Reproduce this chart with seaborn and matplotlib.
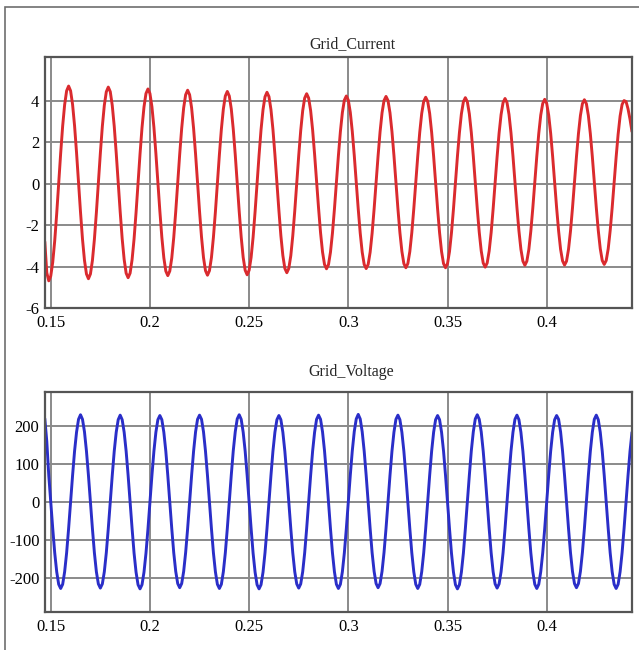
import numpy as np
import matplotlib.pyplot as plt
import seaborn as sns
from matplotlib.patches import Rectangle

# sample times, 1 ms apart, over the visible window (ms)
time_ms = np.arange(147, 444)

# grid current (A), one row per cycle
grid_current = [
    -2.80, -4.30,
    -4.69, -4.46, -3.79, -2.76, -1.45, 0.00, 1.46, 2.77, 3.80, 4.47, 4.70, 4.47, 3.81, 2.79, 1.49, 0.06, -1.38, -2.68, -3.70, -4.36,
    -4.59, -4.36, -3.71, -2.69, -1.40, 0.03, 1.46, 2.75, 3.77, 4.42, 4.65, 4.43, 3.77, 2.76, 1.47, 0.06, -1.36, -2.65, -3.66, -4.32,
    -4.54, -4.32, -3.67, -2.67, -1.40, 0.01, 1.42, 2.69, 3.69, 4.34, 4.56, 4.34, 3.70, 2.71, 1.45, 0.06, -1.33, -2.59, -3.58, -4.22,
    -4.44, -4.22, -3.59, -2.60, -1.35, 0.03, 1.41, 2.66, 3.65, 4.28, 4.50, 4.28, 3.65, 2.66, 1.42, 0.04, -1.34, -2.58, -3.57, -4.20,
    -4.42, -4.20, -3.57, -2.59, -1.36, 0.01, 1.38, 2.61, 3.59, 4.22, 4.44, 4.22, 3.60, 2.62, 1.39, 0.02, -1.35, -2.58, -3.56, -4.18,
    -4.40, -4.18, -3.56, -2.59, -1.36, 0.00, 1.36, 2.59, 3.56, 4.18, 4.40, 4.19, 3.57, 2.61, 1.39, 0.05, -1.29, -2.51, -3.47, -4.09,
    -4.30, -4.09, -3.48, -2.52, -1.32, 0.02, 1.35, 2.55, 3.51, 4.12, 4.33, 4.12, 3.52, 2.59, 1.41, 0.11, -1.19, -2.37, -3.30, -3.90,
    -4.11, -3.91, -3.31, -2.39, -1.23, 0.06, 1.34, 2.50, 3.42, 4.02, 4.22, 4.02, 3.43, 2.51, 1.35, 0.06, -1.23, -2.39, -3.31, -3.90,
    -4.10, -3.90, -3.31, -2.39, -1.23, 0.05, 1.33, 2.49, 3.41, 4.00, 4.20, 4.00, 3.41, 2.50, 1.35, 0.07, -1.21, -2.36, -3.27, -3.86,
    -4.06, -3.86, -3.28, -2.37, -1.22, 0.05, 1.32, 2.47, 3.38, 3.96, 4.16, 3.96, 3.38, 2.47, 1.32, 0.05, -1.22, -2.37, -3.28, -3.86,
    -4.06, -3.86, -3.28, -2.37, -1.23, 0.04, 1.31, 2.45, 3.36, 3.94, 4.14, 3.94, 3.36, 2.46, 1.32, 0.06, -1.21, -2.35, -3.25, -3.83,
    -4.03, -3.83, -3.25, -2.36, -1.22, 0.04, 1.29, 2.43, 3.32, 3.90, 4.10, 3.90, 3.33, 2.44, 1.32, 0.08, -1.16, -2.28, -3.17, -3.74,
    -3.94, -3.74, -3.18, -2.29, -1.18, 0.06, 1.30, 2.41, 3.30, 3.86, 4.06, 3.86, 3.30, 2.42, 1.30, 0.07, -1.17, -2.28, -3.17, -3.73,
    -3.93, -3.74, -3.17, -2.29, -1.18, 0.06, 1.29, 2.40, 3.28, 3.85, 4.04, 3.85, 3.28, 2.40, 1.30, 0.07, -1.16, -2.26, -3.14, -3.71,
    -3.90, -3.71, -3.15, -2.27, -1.17, 0.05, 1.27, 2.37, 3.25, 3.81, 4.00, 3.95, 3.60, 3.10, 2.50,
]

# grid voltage (V)
grid_voltage = [
    220, 160, 70, 0, -70, -134, -184, -217,
    -228, -217, -184, -134, -70, 0, 70, 134, 184, 218, 230, 218, 185, 134, 70, 0, -70, -134, -184, -216,
    -227, -216, -184, -134, -70, 0, 70, 134, 184, 217, 229, 217, 184, 134, 70, 0, -70, -135, -185, -218,
    -229, -218, -185, -135, -71, 0, 70, 134, 184, 217, 228, 217, 184, 134, 70, 0, -70, -134, -183, -215,
    -226, -215, -183, -133, -70, 0, 70, 134, 185, 218, 229, 218, 185, 134, 70, 0, -70, -134, -184, -217,
    -228, -217, -184, -134, -70, 0, 71, 135, 185, 219, 230, 218, 184, 134, 70, 0, -70, -135, -185, -218,
    -229, -218, -185, -134, -70, 0, 70, 134, 184, 217, 228, 217, 184, 134, 70, 0, -70, -134, -184, -216,
    -227, -216, -184, -134, -70, 0, 70, 134, 184, 218, 229, 218, 185, 135, 71, 0, -70, -134, -184, -217,
    -228, -217, -184, -134, -70, 0, 71, 135, 186, 219, 231, 219, 185, 134, 70, 0, -70, -134, -183, -215,
    -226, -215, -183, -133, -70, 0, 70, 134, 184, 218, 229, 217, 184, 134, 70, 0, -70, -134, -184, -217,
    -228, -217, -184, -134, -70, 0, 70, 134, 184, 217, 228, 217, 184, 134, 70, 0, -70, -135, -185, -218,
    -229, -218, -185, -135, -70, 0, 70, 135, 185, 219, 230, 218, 185, 134, 70, 0, -70, -134, -184, -216,
    -227, -216, -184, -134, -70, 0, 70, 134, 184, 218, 229, 217, 184, 134, 70, 0, -70, -134, -184, -217,
    -228, -217, -184, -134, -70, 0, 70, 134, 184, 217, 228, 218, 185, 134, 70, 0, -70, -134, -183, -215,
    -226, -215, -183, -133, -70, 0, 70, 134, 184, 218, 229, 217, 184, 134, 70, 0, -70, -134, -184, -217,
    -228, -217, -184, -134, -70, 0, 70, 134, 184,
]

x_ticks = [0.15, 0.2, 0.25, 0.3, 0.35, 0.4]
x_labels = ["0.15", "0.2", "0.25", "0.3", "0.35", "0.4"]
current_ticks = [-6, -4, -2, 0, 2, 4]
voltage_ticks = [-200, -100, 0, 100, 200]

sns.set_style("white")
plt.rcParams['font.family'] = ['Liberation Serif', 'DejaVu Serif']
plt.rcParams['axes.unicode_minus'] = False

t = time_ms / 1000.0

fig = plt.figure(figsize=(6.39, 6.5), dpi=100)
ax1 = fig.add_axes([45 / 639, 1 - 308 / 650, 587 / 639, 251 / 650])
ax2 = fig.add_axes([45 / 639, 1 - 612 / 650, 587 / 639, 220 / 650])

sns.lineplot(x=t, y=grid_current, ax=ax1, color="#da2a2e", linewidth=2.1)
sns.lineplot(x=t, y=grid_voltage, ax=ax2, color="#2a2ec8", linewidth=2.1)

ax1.set_ylim(-6, 6.1)
ax2.set_ylim(-290, 290)

for ax, yt in ((ax1, current_ticks), (ax2, voltage_ticks)):
    ax.set_xlim(0.1471, 0.4430)
    ax.set_xticks(x_ticks)
    ax.set_xticklabels(x_labels)
    ax.set_yticks(yt)
    ax.set_xlabel("")
    ax.set_ylabel("")
    ax.grid(True, color="#8a8a8a", linewidth=1.4)
    ax.set_axisbelow(True)
    ax.tick_params(length=0, labelsize=12, colors="black")
    ax.tick_params(axis="x", pad=5)
    ax.tick_params(axis="y", pad=4)
    for s in ax.spines.values():
        s.set_color("#555555")
        s.set_linewidth(1.6)

fig.text(352 / 639, 1 - 44 / 650, "Grid_Current", ha="center", va="center", fontsize=11.5)
fig.text(351 / 639, 1 - 372 / 650, "Grid_Voltage", ha="center", va="center", fontsize=11.5)

# outer frame of the screenshot
fig.add_artist(Rectangle((5 / 639, -0.05), 1.0, 1 - 7 / 650 + 0.05, transform=fig.transFigure,
                         fill=False, edgecolor="#6e6e6e", linewidth=1.2))

fig.savefig("out.png", dpi=100)
